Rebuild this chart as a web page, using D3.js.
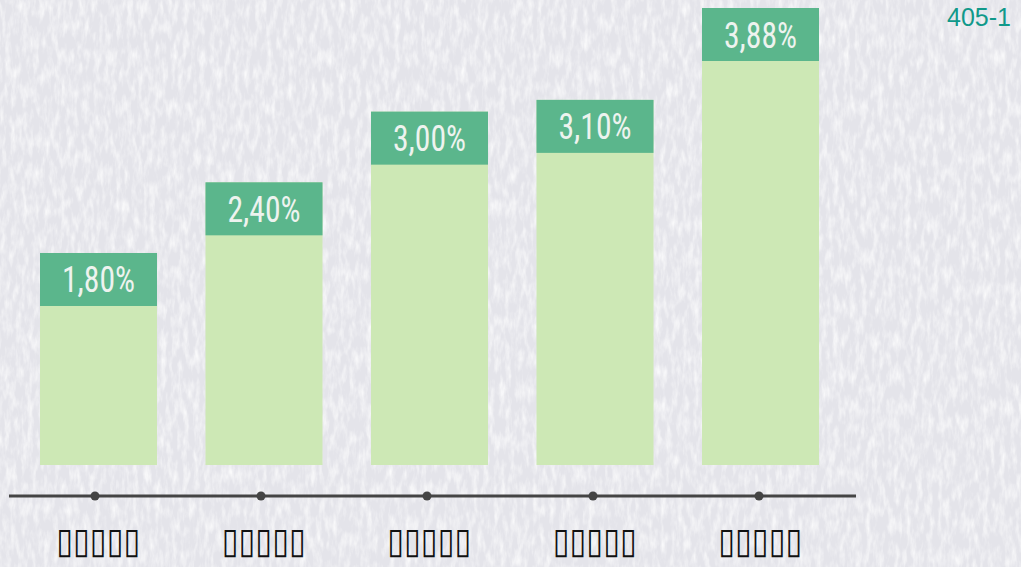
<!DOCTYPE html>
<html>
<head>
<meta charset="utf-8">
<script src="https://cdn.jsdelivr.net/npm/d3@7/dist/d3.min.js"></script>
<style>
  html, body { margin: 0; padding: 0; background: #eeeef2; }
  svg { display: block; }
</style>
</head>
<body>
<svg id="chart" width="1021" height="567"></svg>
<script>
// ---- data ----
const categories = ["▯▯▯▯▯", "▯▯▯▯▯", "▯▯▯▯▯", "▯▯▯▯▯", "▯▯▯▯▯"];
const values = [1.80, 2.40, 3.00, 3.10, 3.88];
const valueLabels = ["1,80%", "2,40%", "3,00%", "3,10%", "3,88%"];
const chartId = "405-1";

// ---- layout ----
const W = 1021, H = 567;
const baseY = 465, topY = 8, capH = 53;
const svg = d3.select("#chart");

// paper texture background
const defs = svg.append("defs");
const f = defs.append("filter").attr("id", "paper").attr("x", 0).attr("y", 0).attr("width", "100%").attr("height", "100%");
f.append("feTurbulence").attr("type", "fractalNoise").attr("baseFrequency", "0.18 0.06").attr("numOctaves", 3).attr("seed", 7).attr("result", "n");
f.append("feColorMatrix").attr("in", "n").attr("type", "matrix")
  .attr("values", "0 0 0 0 1  0 0 0 0 1  0 0 0 0 1  0 0 0 -1.8 1.1");
svg.append("rect").attr("width", W).attr("height", H).attr("fill", "#e4e4ea");
svg.append("rect").attr("width", W).attr("height", H).attr("filter", "url(#paper)").attr("opacity", 0.85);

const x = d3.scaleBand()
  .domain(d3.range(values.length))
  .range([15.75, 843.25])
  .paddingInner(0.293)
  .paddingOuter(0.1465);

const y = d3.scaleLinear()
  .domain([0, d3.max(values)])
  .range([baseY, topY]);

const dotX = d3.scalePoint()
  .domain(d3.range(values.length))
  .range([95, 759]);

const g = svg.append("g");

// light bars
g.selectAll("rect.bar").data(values).join("rect")
  .attr("class", "bar")
  .attr("x", (d, i) => x(i))
  .attr("width", x.bandwidth())
  .attr("y", d => y(d))
  .attr("height", d => baseY - y(d))
  .attr("fill", "#cde8b5");

// dark caps
g.selectAll("rect.cap").data(values).join("rect")
  .attr("class", "cap")
  .attr("x", (d, i) => x(i))
  .attr("width", x.bandwidth())
  .attr("y", d => y(d))
  .attr("height", capH)
  .attr("fill", "#5bb68c");

// value labels
g.selectAll("text.val").data(values).join("text")
  .attr("class", "val")
  .attr("x", (d, i) => x(i) + x.bandwidth() / 2)
  .attr("y", d => y(d) + capH / 2 + 13)
  .attr("text-anchor", "middle")
  .attr("font-family", "'Roboto Condensed', Roboto, sans-serif")
  .attr("font-stretch", "condensed")
  .attr("font-weight", 400)
  .attr("font-size", 36)
  .attr("textLength", 73)
  .attr("lengthAdjust", "spacingAndGlyphs")
  .attr("fill", "#eef3ef")
  .text((d, i) => valueLabels[i]);

// axis line
svg.append("line")
  .attr("x1", 9).attr("x2", 856)
  .attr("y1", 496).attr("y2", 496)
  .attr("stroke", "#444")
  .attr("stroke-width", 3);

svg.selectAll("circle.dot").data(values).join("circle")
  .attr("class", "dot")
  .attr("cx", (d, i) => dotX(i))
  .attr("cy", 496)
  .attr("r", 4.5)
  .attr("fill", "#444");

// category labels
svg.selectAll("text.cat").data(categories).join("text")
  .attr("class", "cat")
  .attr("x", (d, i) => x(i) + x.bandwidth() / 2)
  .attr("y", 553)
  .attr("text-anchor", "middle")
  .attr("font-family", "'DejaVu Sans', sans-serif")
  .attr("font-size", 36)
  .attr("textLength", 84)
  .attr("lengthAdjust", "spacingAndGlyphs")
  .attr("fill", "#111")
  .text(d => d);

// id label
svg.append("text")
  .attr("x", 1011).attr("y", 26)
  .attr("text-anchor", "end")
  .attr("font-family", "'Liberation Sans', Arial, sans-serif")
  .attr("font-size", 25)
  .attr("fill", "#10998a")
  .text(chartId);
</script>
</body>
</html>
